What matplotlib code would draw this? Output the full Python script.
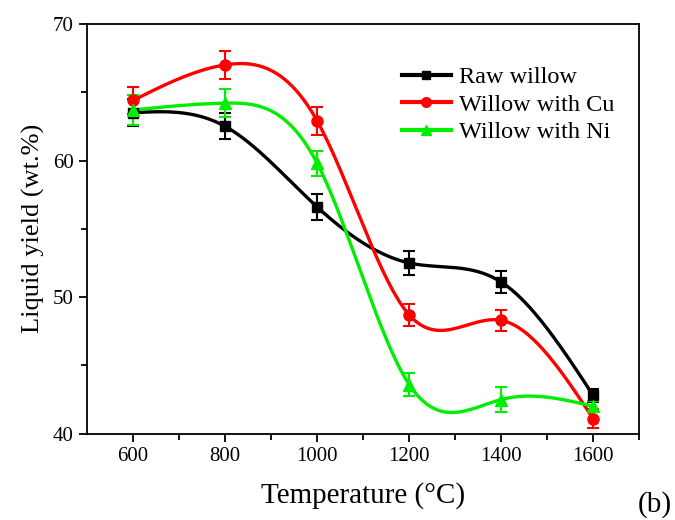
import matplotlib.pyplot as plt
import numpy as np

temps = [600, 800, 1000, 1200, 1400, 1600]

raw_yield = [63.5, 62.5, 56.6, 52.5, 51.1, 42.8]
raw_err = [1.0, 0.95, 0.95, 0.85, 0.8, 0.5]

cu_yield = [64.4, 67.0, 62.9, 48.7, 48.3, 41.1]
cu_err = [1.0, 1.0, 1.0, 0.8, 0.75, 0.7]

ni_yield = [63.7, 64.2, 59.8, 43.6, 42.5, 42.0]
ni_err = [1.1, 1.0, 0.9, 0.85, 0.9, 0.4]


def natural_spline(x, y, n=300):
    # natural cubic spline through the measured points
    x = np.asarray(x, float)
    y = np.asarray(y, float)
    k = len(x)
    h = np.diff(x)
    A = np.zeros((k, k))
    b = np.zeros(k)
    A[0, 0] = A[-1, -1] = 1
    for i in range(1, k - 1):
        A[i, i - 1] = h[i - 1]
        A[i, i] = 2 * (h[i - 1] + h[i])
        A[i, i + 1] = h[i]
        b[i] = 6 * ((y[i + 1] - y[i]) / h[i] - (y[i] - y[i - 1]) / h[i - 1])
    m = np.linalg.solve(A, b)
    xs = np.linspace(x[0], x[-1], n)
    idx = np.clip(np.searchsorted(x, xs) - 1, 0, k - 2)
    x0, x1 = x[idx], x[idx + 1]
    hh = x1 - x0
    t0, t1 = x1 - xs, xs - x0
    ys = (m[idx] * t0 ** 3 + m[idx + 1] * t1 ** 3) / (6 * hh) \
        + (y[idx] / hh - m[idx] * hh / 6) * t0 \
        + (y[idx + 1] / hh - m[idx + 1] * hh / 6) * t1
    return xs, ys


plt.rcParams['font.family'] = ['Liberation Serif', 'DejaVu Serif']

fig = plt.figure(figsize=(6.75, 5.2), dpi=100)
ax = fig.add_axes([0.129, 0.166, 0.818, 0.788])

series = [
    ("Raw willow", raw_yield, raw_err, 'black', 's', 7),
    ("Willow with Cu", cu_yield, cu_err, '#ff0000', 'o', 8),
    ("Willow with Ni", ni_yield, ni_err, '#00ee00', '^', 8),
]
for label, y, e, c, mk, ms in series:
    xs, ys = natural_spline(temps, y)
    ax.plot(xs, ys, color=c, lw=2.4, zorder=2)
    ax.errorbar(temps, y, yerr=e, fmt=mk, color=c, ms=ms, capsize=4,
                elinewidth=1.5, capthick=1.5, zorder=3)
    ax.plot([], [], color=c, lw=3, marker=mk, ms=ms - 1, label=label)

ax.set_xlim(500, 1700)
ax.set_ylim(40, 70)
ax.set_xticks(temps)
ax.set_xticks([700, 900, 1100, 1300, 1500, 1700], minor=True)
ax.set_yticks([40, 50, 60, 70])
ax.set_yticks([45, 55, 65], minor=True)
ax.tick_params(which='both', direction='out', top=False, right=False,
               labelsize=15, width=1.3)
ax.tick_params(which='major', length=6)
ax.tick_params(which='minor', length=4)
for s in ax.spines.values():
    s.set_linewidth(1.3)

ax.set_xlabel("Temperature (\u00b0C)", fontsize=21, labelpad=12)
ax.set_ylabel("Liquid yield (wt.%)", fontsize=19, labelpad=6)

ax.legend(loc='upper right', bbox_to_anchor=(0.995, 0.95), frameon=False,
          fontsize=17.5, handlelength=2.0, handletextpad=0.35, labelspacing=0.22)

fig.text(0.97, 0.03, "(b)", fontsize=21, ha='center', va='center')

fig.savefig("out.png", dpi=100)
